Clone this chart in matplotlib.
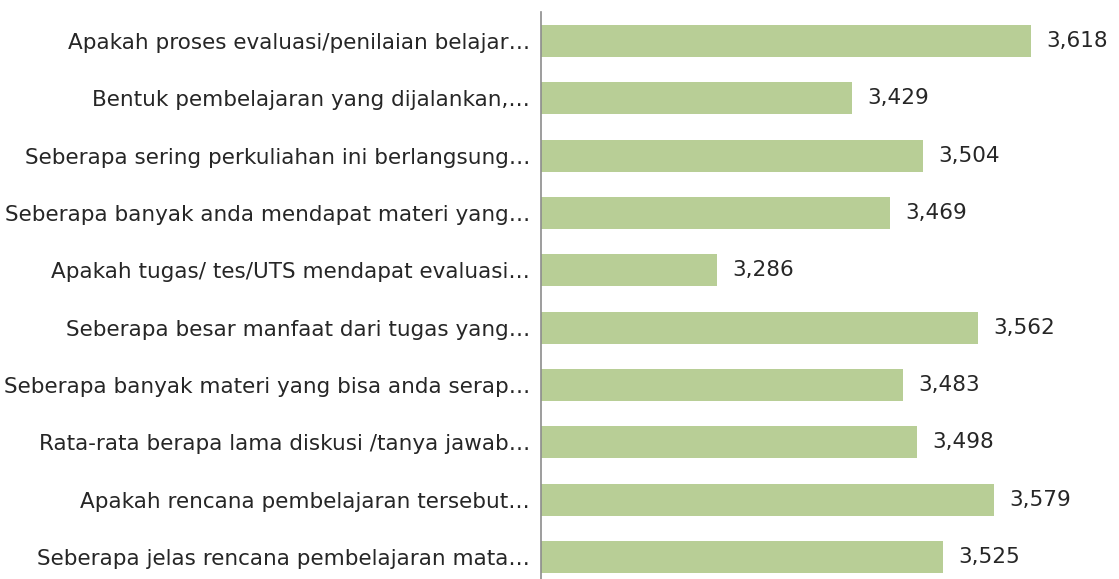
import matplotlib
matplotlib.use('Agg')
import matplotlib.pyplot as plt
import numpy as np

######################################################################

questions = [
    "Apakah proses evaluasi/penilaian belajar…",
    "Bentuk pembelajaran yang dijalankan,…",
    "Seberapa sering perkuliahan ini berlangsung…",
    "Seberapa banyak anda mendapat materi yang…",
    "Apakah tugas/ tes/UTS mendapat evaluasi…",
    "Seberapa besar manfaat dari tugas yang…",
    "Seberapa banyak materi yang bisa anda serap…",
    "Rata-rata berapa lama diskusi /tanya jawab…",
    "Apakah rencana pembelajaran tersebut…",
    "Seberapa jelas rencana pembelajaran mata…",
]
scores = [3.618, 3.429, 3.504, 3.469, 3.286, 3.562, 3.483, 3.498, 3.579, 3.525]

bar_color = '#B8CE96'
text_color = '#262626'

######################################################################

plt.rcParams['font.family'] = ['DejaVu Sans']

fig = plt.figure(figsize=(11.19, 5.79), dpi=100)
ax = fig.add_axes([0.4835, -0.0116, 0.507, 0.9902])

pos = np.arange(len(scores))
ax.barh(pos, [s - 3.1 for s in scores], left=3.1, height=0.56, color=bar_color)
ax.set_ylim(len(scores) - 0.5, -0.5)
ax.set_xlim(3.1, 3.7)

# value labels with decimal comma
for y, s in zip(pos, scores):
    ax.text(s + 0.016, y, f"{s:.3f}".replace('.', ','), va='center', ha='left',
            fontsize=15.5, color=text_color)

ax.set_yticks(pos)
ax.set_yticklabels(questions, fontsize=15.5, color=text_color)
ax.tick_params(axis='y', length=0, pad=8)
ax.set_xticks([])
for side in ['top', 'right', 'bottom']:
    ax.spines[side].set_visible(False)
ax.spines['left'].set_color('#8c8c8c')
ax.spines['left'].set_linewidth(1.2)

fig.savefig('out.png', dpi=100)
